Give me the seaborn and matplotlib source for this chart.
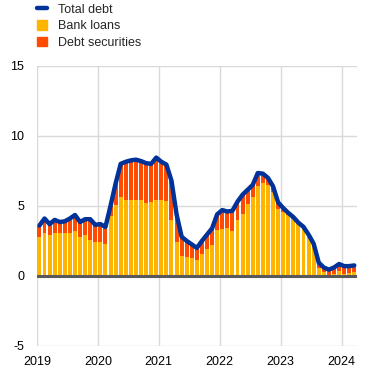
import numpy as np
import pandas as pd
import seaborn as sns
import matplotlib.pyplot as plt
from matplotlib.lines import Line2D
from matplotlib.patches import Patch

# Set the Seaborn style, then the font (set_style resets font.family)
sns.set_style("whitegrid")
plt.rcParams['font.family'] = ['Liberation Sans', 'DejaVu Sans']
plt.rcParams['axes.unicode_minus'] = False

# Monthly data, Jan 2019 - Mar 2024 (annual growth, percent)
years = [2019, 2020, 2021, 2022, 2023, 2024]

bank_loans = [
    2.75, 3.05, 2.9, 3.05, 3.05, 3.05, 3.05, 3.2, 2.75, 2.9, 2.6, 2.45,
    2.45, 2.3, 4.25, 5.1, 5.6, 5.45, 5.4, 5.45, 5.4, 5.2, 5.3, 5.45,
    5.4, 5.35, 4.0, 2.45, 1.45, 1.38, 1.3, 1.15, 1.6, 1.9, 2.2, 3.3,
    3.38, 3.45, 3.2, 4.0, 4.45, 5.15, 5.65, 6.45, 6.6, 6.5, 6.0, 4.75,
    4.6, 4.35, 4.1, 3.75, 3.45, 2.85, 2.15, 0.6, 0.25, -0.12, 0.17, 0.35,
    0.17, 0.2, 0.3,
]

debt_securities = [
    0.85, 1.05, 0.8, 0.95, 0.8, 0.85, 1.05, 1.15, 1.1, 1.15, 1.45, 1.2,
    1.25, 1.2, 0.75, 1.5, 2.4, 2.7, 2.85, 2.85, 2.8, 2.85, 2.7, 3.0,
    2.75, 2.6, 2.8, 1.95, 1.35, 1.1, 0.95, 0.85, 0.9, 1.05, 1.2, 1.1,
    1.3, 1.15, 1.45, 1.3, 1.35, 1.0, 0.85, 0.9, 0.7, 0.5, 0.4, 0.5,
    0.25, 0.15, 0.1, 0.05, 0.05, 0.1, 0.15, 0.3, 0.35, 0.4, 0.45, 0.4,
    0.5, 0.5, 0.45,
]

total_debt = [
    3.6, 4.1, 3.7, 4.0, 3.85, 3.9, 4.1, 4.35, 3.85, 4.05, 4.05, 3.65,
    3.7, 3.5, 5.0, 6.6, 8.0, 8.15, 8.25, 8.3, 8.2, 8.05, 8.0, 8.45,
    8.15, 7.95, 6.8, 4.4, 2.8, 2.5, 2.25, 2.0, 2.5, 2.95, 3.4, 4.4,
    4.7, 4.6, 4.65, 5.3, 5.8, 6.15, 6.5, 7.35, 7.3, 7.0, 6.4, 5.25,
    4.85, 4.5, 4.2, 3.8, 3.5, 2.95, 2.3, 0.95, 0.6, 0.45, 0.6, 0.85,
    0.7, 0.7, 0.75,
]

# Colours
c_loans = '#ffb400'
c_sec = '#ff4b00'
c_total = '#003299'

df = pd.DataFrame({
    'month': np.arange(len(bank_loans)),
    'loans': bank_loans,
    'securities': debt_securities,
    'total': total_debt,
})
# securities stacked on top of the positive part of loans
df['sec_bottom'] = df['loans'].clip(lower=0)

fig = plt.figure(figsize=(3.69, 3.72), dpi=100)
ax = fig.add_axes([0.100, 0.070, 0.867, 0.753])

sns.barplot(data=df, x='month', y='loans', native_scale=True, color=c_loans,
            saturation=1, width=0.78, errorbar=None, linewidth=0, ax=ax, zorder=2)
sns.barplot(data=df, x='month', y='securities', native_scale=True, color=c_sec,
            saturation=1, width=0.78, errorbar=None, linewidth=0, ax=ax, zorder=2,
            bottom=df['sec_bottom'].to_numpy())

ax.axhline(0, color='#595959', lw=2.2, zorder=3)

sns.lineplot(data=df, x='month', y='total', color=c_total, lw=3.2, ax=ax, zorder=4)

# Axes
ax.set_xlim(-0.5, len(bank_loans) - 0.5)
ax.set_ylim(-5, 15)
ax.set_yticks([-5, 0, 5, 10, 15])
ax.set_xticks([12 * i - 0.5 for i in range(len(years))])
ax.set_xticklabels([str(y) for y in years])
ax.set_xlabel('')
ax.set_ylabel('')
ax.grid(True, color='#d9d9d9', lw=1)
ax.set_axisbelow(True)
for s in ax.spines.values():
    s.set_visible(False)
ax.tick_params(axis='both', length=0, labelsize=9, colors='black')
ax.tick_params(axis='y', pad=9)
ax.tick_params(axis='x', pad=7)

# Legend
handles = [
    Line2D([0], [0], color=c_total, lw=3.2),
    Patch(color=c_loans),
    Patch(color=c_sec),
]
fig.legend(handles, ['Total debt', 'Bank loans', 'Debt securities'],
           loc='upper left', bbox_to_anchor=(0.100, 0.99), frameon=False,
           fontsize=9, handlelength=0.8, handleheight=0.8, handletextpad=0.9,
           labelspacing=0.35, borderpad=0, borderaxespad=0)

plt.savefig('out.png', dpi=100)
plt.close()
